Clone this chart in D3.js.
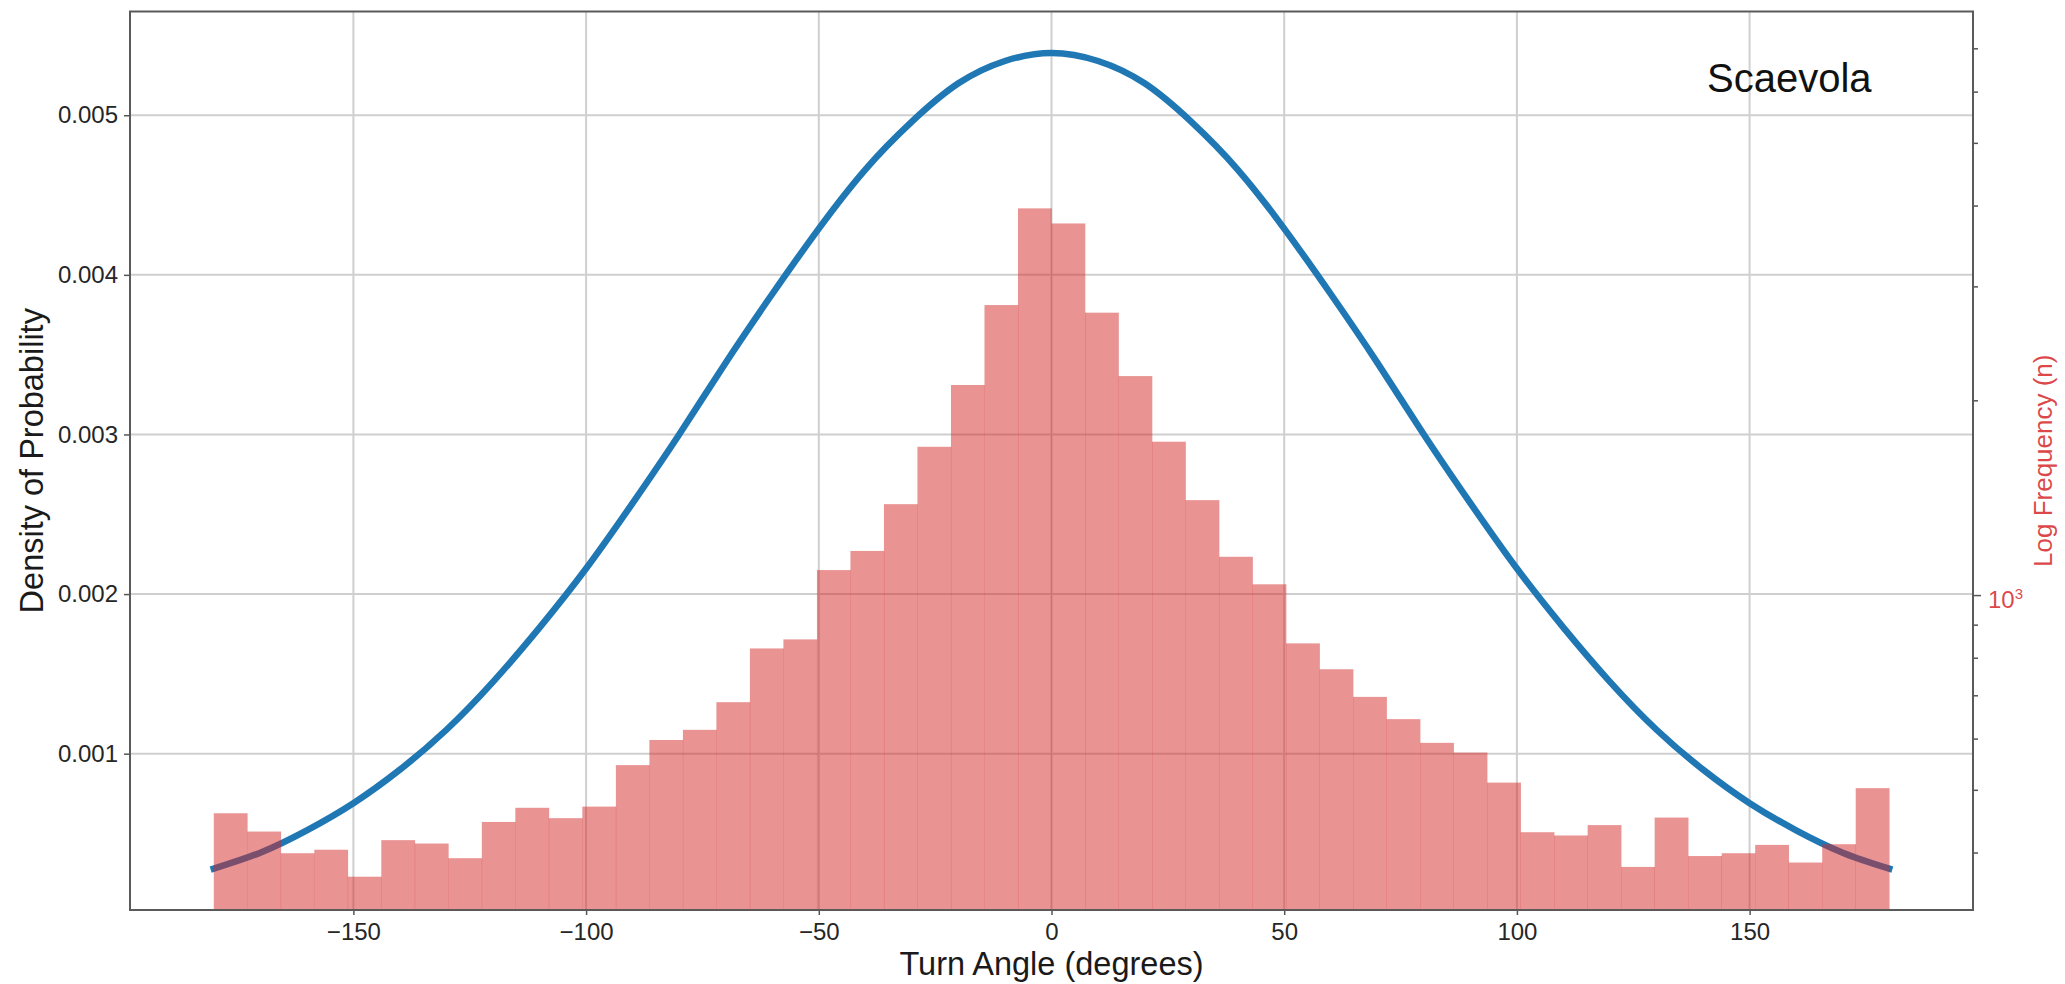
<!DOCTYPE html>
<html>
<head>
<meta charset="utf-8">
<script src="https://cdn.jsdelivr.net/npm/d3@7"></script>
<style>
  html, body { margin: 0; padding: 0; background: #ffffff; }
  svg { display: block; font-family: "Liberation Sans", Arial, Helvetica, sans-serif; }
</style>
</head>
<body>
<svg id="chart" width="2065" height="984"></svg>
<script>
// Turn-angle histogram (counts, log scale) with fitted density curve
const binStart = -180;
const binWidth = 7.2;
const binCounts = [
  460, 431, 399, 404, 367, 418, 413, 392, 446, 469,
  452, 471, 546, 597, 619, 683, 827, 854, 1093, 1170,
  1382, 1695, 2112, 2807, 3960, 3753, 2732, 2180, 1726, 1402,
  1146, 1039, 842, 768, 696, 643, 591, 571, 513, 430,
  425, 441, 380, 453, 395, 399, 411, 386, 412, 503
];

// Density curve, sampled every 10 degrees
const curveAngles = [
  -180, -170, -160, -150, -140, -130, -120, -110, -100, -90,
  -80, -70, -60, -50, -40, -30, -20, -10, 0, 10,
  20, 30, 40, 50, 60, 70, 80, 90, 100, 110,
  120, 130, 140, 150, 160, 170, 180
];
const curveDensity = [
  0.00028, 0.00038, 0.00052, 0.00069, 0.00090, 0.00115, 0.00145, 0.00179, 0.00216, 0.00257,
  0.00300, 0.00345, 0.00388, 0.00429, 0.00466, 0.00496, 0.00520, 0.00534, 0.00539, 0.00534,
  0.00520, 0.00496, 0.00466, 0.00429, 0.00388, 0.00345, 0.00300, 0.00257, 0.00216, 0.00179,
  0.00145, 0.00115, 0.00090, 0.00069, 0.00052, 0.00038, 0.00028
];

// Axis ranges and ticks
const xDomain = [-198, 198];
const densityDomain = [0.0000207, 0.00565];
const countDomain = [326, 7980];
const xTicks = [-150, -100, -50, 0, 50, 100, 150];
const densityTicks = [0.001, 0.002, 0.003, 0.004, 0.005];
const countMajorTicks = [1000];
const countMinorTicks = [400, 500, 600, 700, 800, 900, 2000, 3000, 4000, 5000, 6000, 7000];

const plot = { left: 130, right: 1973, top: 11.5, bottom: 910 };

const svg = d3.select("#chart");

const x = d3.scaleLinear().domain(xDomain).range([plot.left, plot.right]);
const yL = d3.scaleLinear().domain(densityDomain).range([plot.bottom, plot.top]);
const yR = d3.scaleLog().domain(countDomain).range([plot.bottom, plot.top]);

const tickColor = "#555555";
const labelColor = "#262626";
const red = "#d62728";
const gridColor = "#cfcfcf";

// Grid
const grid = svg.append("g").attr("class", "grid");
grid.selectAll("line.v").data(xTicks).join("line")
  .attr("x1", d => x(d)).attr("x2", d => x(d))
  .attr("y1", plot.top).attr("y2", plot.bottom)
  .attr("stroke", gridColor).attr("stroke-width", 2);
grid.selectAll("line.h").data(densityTicks).join("line")
  .attr("x1", plot.left).attr("x2", plot.right)
  .attr("y1", d => yL(d)).attr("y2", d => yL(d))
  .attr("stroke", gridColor).attr("stroke-width", 2);

// Density curve
const line = d3.line()
  .x((d, i) => x(curveAngles[i]))
  .y(d => yL(d))
  .curve(d3.curveNatural);
svg.append("path")
  .datum(curveDensity)
  .attr("d", line)
  .attr("fill", "none")
  .attr("stroke", "#1f77b4")
  .attr("stroke-width", 6.5)
  .attr("stroke-linecap", "square");

// Histogram bars (twin log axis), semi-transparent over the curve
const bins = binCounts.map((c, i) => ({ x0: binStart + i * binWidth, x1: binStart + (i + 1) * binWidth, n: c }));
svg.append("g").selectAll("rect").data(bins).join("rect")
  .attr("x", d => x(d.x0))
  .attr("width", d => x(d.x1) - x(d.x0) + 0.3)
  .attr("y", d => yR(d.n))
  .attr("height", d => plot.bottom - yR(d.n))
  .attr("fill", red)
  .attr("fill-opacity", 0.5);

// Axes
const fontTick = 24;
const xAxis = d3.axisBottom(x).tickValues(xTicks).tickSize(5).tickPadding(8)
  .tickFormat(d => d < 0 ? "\u2212" + Math.abs(d) : String(d));
svg.append("g").attr("transform", `translate(0,${plot.bottom})`).call(xAxis)
  .call(g => g.select(".domain").remove())
  .call(g => g.selectAll("line").attr("stroke", tickColor).attr("stroke-width", 1.5))
  .call(g => g.selectAll("text").attr("font-size", fontTick).attr("fill", labelColor)
    .attr("font-family", "'Liberation Sans', Arial, sans-serif"));

const yAxis = d3.axisLeft(yL).tickValues(densityTicks).tickSize(6).tickPadding(6)
  .tickFormat(d3.format(".3f"));
svg.append("g").attr("transform", `translate(${plot.left},0)`).call(yAxis)
  .call(g => g.select(".domain").remove())
  .call(g => g.selectAll("line").attr("stroke", tickColor).attr("stroke-width", 1.5))
  .call(g => g.selectAll("text").attr("font-size", fontTick).attr("fill", labelColor)
    .attr("font-family", "'Liberation Sans', Arial, sans-serif"));

const yMinor = d3.axisRight(yR).tickValues(countMinorTicks).tickSize(5).tickFormat("");
svg.append("g").attr("transform", `translate(${plot.right},0)`).call(yMinor)
  .call(g => g.select(".domain").remove())
  .call(g => g.selectAll("line").attr("stroke", tickColor).attr("stroke-width", 1.5));

const yMajor = d3.axisRight(yR).tickValues(countMajorTicks).tickSize(8).tickFormat("");
const majorG = svg.append("g").attr("transform", `translate(${plot.right},0)`).call(yMajor)
  .call(g => g.select(".domain").remove())
  .call(g => g.selectAll("line").attr("stroke", tickColor).attr("stroke-width", 1.5));
majorG.selectAll("g.tick").append("text")
  .attr("x", 15).attr("y", 0).attr("dy", "0.5em")
  .attr("fill", red).attr("fill-opacity", 0.85)
  .attr("font-size", fontTick)
  .attr("text-anchor", "start")
  .attr("font-family", "'Liberation Sans', Arial, sans-serif")
  .each(function (d) {
    const t = d3.select(this);
    const exp = Math.round(Math.log10(d));
    t.append("tspan").text("10");
    t.append("tspan").attr("dy", "-0.55em").attr("font-size", 15).text(exp);
  });

// Frame
svg.append("rect")
  .attr("x", plot.left).attr("y", plot.top)
  .attr("width", plot.right - plot.left).attr("height", plot.bottom - plot.top)
  .attr("fill", "none").attr("stroke", "#5a5a5a").attr("stroke-width", 2);

// Labels
svg.append("text")
  .attr("x", (plot.left + plot.right) / 2).attr("y", 975)
  .attr("text-anchor", "middle").attr("font-size", 32.5).attr("fill", "#1a1a1a")
  .text("Turn Angle (degrees)");

svg.append("text")
  .attr("transform", `translate(43,${(plot.top + plot.bottom) / 2}) rotate(-90)`)
  .attr("text-anchor", "middle").attr("font-size", 32.5).attr("fill", "#1a1a1a")
  .text("Density of Probability");

svg.append("text")
  .attr("transform", `translate(2052,${(plot.top + plot.bottom) / 2}) rotate(-90)`)
  .attr("text-anchor", "middle").attr("font-size", 26).attr("fill", red).attr("fill-opacity", 0.85)
  .text("Log Frequency (n)");

svg.append("text")
  .attr("x", 1707).attr("y", 92)
  .attr("font-size", 40).attr("fill", "#111111")
  .text("Scaevola");
</script>
</body>
</html>
